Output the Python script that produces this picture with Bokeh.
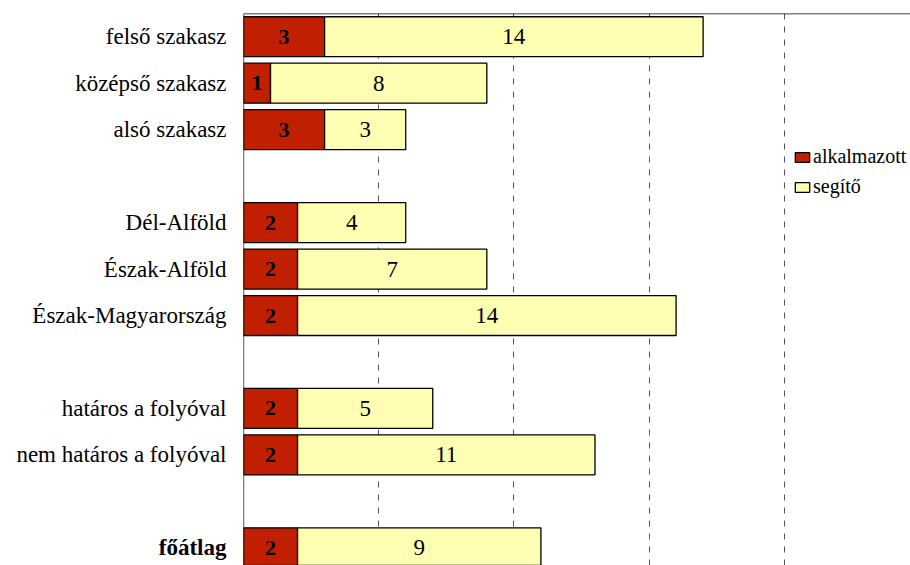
from bokeh.plotting import figure
from bokeh.models import ColumnDataSource, Range1d, FixedTicker, Span, Legend
from bokeh.layouts import row
from bokeh.core.properties import value
from bokeh.embed import file_html
from bokeh.resources import INLINE

# ---- data ----
groups = [
    ["felső szakasz", "középső szakasz", "alsó szakasz"],
    ["Dél-Alföld", "Észak-Alföld", "Észak-Magyarország"],
    ["határos a folyóval", "nem határos a folyóval"],
    ["főátlag"],
]
alkalmazott = [3, 1, 3, 2, 2, 2, 2, 2, 2]
segito = [14, 8, 3, 4, 7, 14, 5, 11, 9]
bold_category = "főátlag"
grid_ticks = [5, 10, 15, 20]

RED = "#C02000"
YELLOW = "#FFFFB3"
FONT = "Liberation Serif"

# row positions: one empty row between groups
categories, rows = [], []
r = 0
for g in groups:
    for c in g:
        categories.append(c)
        rows.append(r)
        r += 1
    r += 1

src = ColumnDataSource(dict(
    y=rows, cat=categories, alkalmazott=alkalmazott, segito=segito,
    a_mid=[a / 2 for a in alkalmazott],
    s_mid=[a + s / 2 for a, s in zip(alkalmazott, segito)],
    a_txt=[str(a) for a in alkalmazott],
    s_txt=[str(s) for s in segito],
    style=["bold" if c == bold_category else "normal" for c in categories],
))

yr = Range1d(11.38, -0.5)

# ---- label column (category names) ----
LW = 242
lab = figure(width=LW, height=565, output_backend="svg", toolbar_location=None,
             x_range=Range1d(0, LW), y_range=yr,
             min_border_left=0, min_border_right=0, min_border_top=13,
             min_border_bottom=0)
lab.outline_line_color = None
lab.axis.visible = False
lab.grid.visible = False
lab.text(x=LW - 16, y="y", text="cat", source=src, text_align="right",
         text_baseline="middle", text_font=value(FONT), text_font_size="23px",
         text_font_style="style", text_color="black")

# ---- bars ----
p = figure(width=910 - LW, height=565, output_backend="svg", toolbar_location=None,
           x_range=Range1d(0, 24.67), y_range=yr,
           min_border_left=1, min_border_right=0, min_border_top=13,
           min_border_bottom=0)
p.outline_line_color = None
p.background_fill_color = "white"
p.border_fill_color = "white"

rs = p.hbar_stack(["alkalmazott", "segito"], y="y", height=0.86, source=src,
                  color=[RED, YELLOW], line_color="black", line_width=1.3)

p.text(x="a_mid", y="y", text="a_txt", source=src, text_align="center",
       text_baseline="middle", text_font=value(FONT), text_font_size="22px",
       text_font_style="bold", text_color="black")
p.text(x="s_mid", y="y", text="s_txt", source=src, text_align="center",
       text_baseline="middle", text_font=value(FONT), text_font_size="23px",
       text_color="black")

p.xaxis.visible = False
p.yaxis.visible = False
p.xgrid.ticker = FixedTicker(ticks=grid_ticks)
p.xgrid.grid_line_color = "#555555"
p.xgrid.grid_line_dash = "6 7"
p.xgrid.grid_line_width = 1
p.ygrid.grid_line_color = None

p.add_layout(Span(location=-0.5, dimension="width", line_color="black", line_width=1.3))
p.add_layout(Span(location=0, dimension="height", line_color="black", line_width=1.3))

legend = Legend(items=[("alkalmazott", [rs[0]]), ("segítő", [rs[1]])],
                location=(550, 367), padding=0, margin=0, spacing=7,
                glyph_width=18, glyph_height=12, label_standoff=2,
                label_text_font=FONT, label_text_font_size="20px",
                label_text_color="black",
                background_fill_alpha=0, border_line_color=None)
p.add_layout(legend)

layout = row(lab, p, spacing=0)
open("out.html", "w").write(file_html(layout, INLINE))
